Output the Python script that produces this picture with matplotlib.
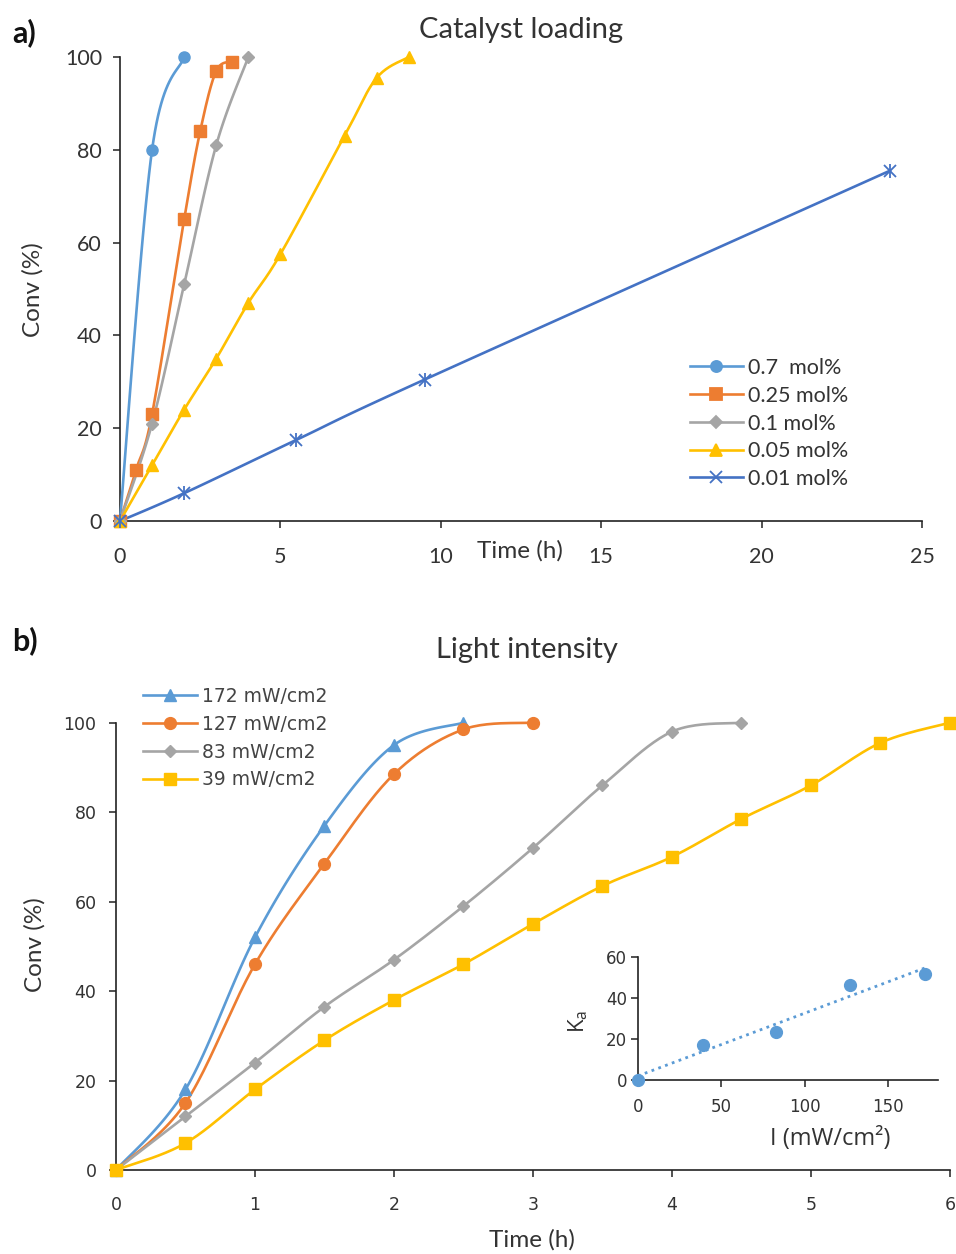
import numpy as np
import matplotlib
matplotlib.use("Agg")
import matplotlib.pyplot as plt

plt.rcParams["font.family"] = ["Lato", "DejaVu Sans"]
plt.rcParams["mathtext.fontset"] = "custom"
plt.rcParams["mathtext.rm"] = "Open Sans"
plt.rcParams["mathtext.it"] = "Open Sans"

# ---- data: panel a (catalyst loading) ----
a_labels = ["0.7  mol%", "0.25 mol%", "0.1 mol%", "0.05 mol%", "0.01 mol%"]
a_t = [
    [0, 1, 2],
    [0, 0.5, 1, 2, 2.5, 3, 3.5],
    [0, 1, 2, 3, 4],
    [0, 1, 2, 3, 4, 5, 7, 8, 9],
    [0, 2, 5.5, 9.5, 24],
]
a_conv = [
    [0, 80, 100],
    [0, 11, 23, 65, 84, 97, 99],
    [0, 21, 51, 81, 100],
    [0, 12, 24, 35, 47, 57.5, 83, 95.5, 100],
    [0, 6, 17.5, 30.5, 75.5],
]
a_xticks = [0, 5, 10, 15, 20, 25]
a_yticks = [0, 20, 40, 60, 80, 100]

# ---- data: panel b (light intensity) ----
b_labels = ["172 mW/cm2", "127 mW/cm2", "83 mW/cm2", "39 mW/cm2"]
b_t = [
    [0, 0.5, 1, 1.5, 2, 2.5],
    [0, 0.5, 1, 1.5, 2, 2.5, 3],
    [0, 0.5, 1, 1.5, 2, 2.5, 3, 3.5, 4, 4.5],
    [0, 0.5, 1, 1.5, 2, 2.5, 3, 3.5, 4, 4.5, 5, 5.5, 6],
]
b_conv = [
    [0, 18, 52, 77, 95, 100],
    [0, 15, 46, 68.5, 88.5, 98.5, 100],
    [0, 12, 24, 36.5, 47, 59, 72, 86, 98, 100],
    [0, 6, 18, 29, 38, 46, 55, 63.5, 70, 78.5, 86, 95.5, 100],
]
b_xticks = [0, 1, 2, 3, 4, 5, 6]
b_yticks = [0, 20, 40, 60, 80, 100]

# ---- data: inset ----
inset_I = [0, 39, 83, 127, 172]
inset_k = [0, 17.3, 23.5, 46.2, 51.8]
inset_xticks = [0, 50, 100, 150]
inset_yticks = [0, 20, 40, 60]

blue = "#5B9BD5"
orange = "#ED7D31"
grey = "#A5A5A5"
gold = "#FFC000"
navy = "#4472C4"
txt = "#333333"
wide = ["DejaVu Sans"]


def smooth(x, y, n=24):
    # Excel-style smoothed line (Catmull-Rom Bezier through the points)
    p = np.column_stack([x, y]).astype(float)
    ext = np.vstack([p[0], p, p[-1]])
    out = [p[:1]]
    s = np.linspace(0, 1, n)[1:, None]
    for i in range(len(p) - 1):
        p0, p1, p2, p3 = ext[i], ext[i + 1], ext[i + 2], ext[i + 3]
        c1 = p1 + (p2 - p0) / 6
        c2 = p2 - (p3 - p1) / 6
        seg = ((1 - s) ** 3) * p1 + 3 * ((1 - s) ** 2) * s * c1 + 3 * (1 - s) * s ** 2 * c2 + s ** 3 * p2
        out.append(seg)
    q = np.vstack(out)
    return q[:, 0], q[:, 1]


def style_axes(ax, fs):
    for sp in ["top", "right"]:
        ax.spines[sp].set_visible(False)
    for sp in ["left", "bottom"]:
        ax.spines[sp].set_color("#222222")
        ax.spines[sp].set_linewidth(1.2)
    ax.tick_params(direction="out", length=5, width=1.1, colors="#222222",
                   labelcolor=txt, labelsize=fs)


fig = plt.figure(figsize=(9.56, 12.54), dpi=100)

# ================= panel a =================
ax1 = fig.add_axes([0.1255, 0.5845, 0.8389, 0.370])
a_colors = [blue, orange, grey, gold, navy]
a_markers = ["o", "s", "D", "^", "x"]
a_msize = [8, 8, 6, 8, 8.5]
for t, c, lab, col, mk, ms in zip(a_t, a_conv, a_labels, a_colors, a_markers, a_msize):
    sx, sy = smooth(t, c)
    ax1.plot(sx, sy, color=col, lw=1.9, clip_on=False, zorder=3)
    if mk == "x":
        ax1.plot(t, c, ls="none", marker="x", ms=ms, mew=1.3, color=col, clip_on=False, zorder=4)
        ax1.plot(t, c, ls="none", marker="|", ms=ms + 2, mew=1.3, color=col, clip_on=False, zorder=4)
    else:
        ax1.plot(t, c, ls="none", marker=mk, ms=ms, color=col, mec=col, clip_on=False, zorder=4)
    ax1.plot([], [], color=col, lw=1.9, marker=mk, ms=ms, mew=1.3, label=lab)

ax1.set_xlim(0, 25)
ax1.set_ylim(0, 100)
ax1.set_xticks(a_xticks)
ax1.set_yticks(a_yticks)
style_axes(ax1, 15.5)
ax1.tick_params(axis="x", pad=14)
ax1.tick_params(axis="y", pad=8)
leg1 = ax1.legend(loc="upper left", bbox_to_anchor=(690 / 956, 1 - 358 / 1254),
                  bbox_transform=fig.transFigure, frameon=False, fontsize=15.5,
                  handlelength=2.45, handletextpad=0.23, labelspacing=0.36,
                  borderpad=0, borderaxespad=0)
for tx in leg1.get_texts():
    tx.set_color(txt)

fig.text(521 / 956, 1 - 30 / 1254, "Catalyst loading", ha="center", va="center",
         fontsize=21, color=txt)
fig.text(12 / 956, 1 - 33 / 1254, "a)", ha="left", va="center", fontsize=22,
         weight="bold", color="#111111")
fig.text(33 / 956, 1 - 290 / 1254, "Conv (%)", rotation=90, ha="center", va="center",
         fontsize=17.5, color=txt)
fig.text(520 / 956, 1 - 551 / 1254, "Time (h)", ha="center", va="center",
         fontsize=17.5, color=txt)

# ================= panel b =================
ax2 = fig.add_axes([0.1213, 0.067, 0.8724, 0.3567])
b_colors = [blue, orange, grey, gold]
b_markers = ["^", "o", "D", "s"]
b_msize = [8.5, 8.5, 6, 8.5]
for t, c, lab, col, mk, ms in zip(b_t, b_conv, b_labels, b_colors, b_markers, b_msize):
    sx, sy = smooth(t, c)
    ax2.plot(sx, sy, color=col, lw=1.9, clip_on=False, zorder=3)
    ax2.plot(t, c, ls="none", marker=mk, ms=ms, color=col, clip_on=False, zorder=4)
    ax2.plot([], [], color=col, lw=1.9, marker=mk, ms=ms, label=lab)

ax2.set_xlim(0, 6)
ax2.set_ylim(0, 100)
ax2.set_xticks(b_xticks)
ax2.set_yticks(b_yticks)
style_axes(ax2, 12.5)
for lbl in ax2.get_xticklabels() + ax2.get_yticklabels():
    lbl.set_family(wide)
ax2.tick_params(axis="x", pad=14)
ax2.tick_params(axis="y", pad=9)
leg2 = ax2.legend(loc="upper left", bbox_to_anchor=(143 / 956, 1 - 687 / 1254),
                  bbox_transform=fig.transFigure, frameon=False,
                  prop={"family": wide, "size": 13.5}, handlelength=2.9,
                  handletextpad=0.27, labelspacing=0.47, borderpad=0, borderaxespad=0)
for tx in leg2.get_texts():
    tx.set_color("#444444")

fig.text(527 / 956, 1 - 650 / 1254, "Light intensity", ha="center", va="center",
         fontsize=21, color=txt)
fig.text(12 / 956, 1 - 641 / 1254, "b)", ha="left", va="center", fontsize=22,
         weight="bold", color="#111111")
fig.text(35 / 956, 1 - 945 / 1254, "Conv (%)", rotation=90, ha="center", va="center",
         fontsize=17.5, color=txt)
fig.text(532 / 956, 1 - 1240 / 1254, "Time (h)", ha="center", va="center",
         fontsize=17.5, color=txt)

# ================= inset =================
ax3 = fig.add_axes([0.6674, 0.1388, 0.3138, 0.098])
ax3.plot(inset_I, inset_k, ls="none", marker="o", ms=8.5, color=blue, clip_on=False, zorder=4)
slope, icpt = np.polyfit(inset_I, inset_k, 1)
fx = np.array([inset_I[0], inset_I[-1]])
ax3.plot(fx, slope * fx + icpt, ls=(0, (1, 1.6)), lw=2, color=blue, zorder=3)
ax3.set_xlim(0, 180)
ax3.set_ylim(0, 60)
ax3.set_xticks(inset_xticks)
ax3.set_yticks(inset_yticks)
style_axes(ax3, 12)
for lbl in ax3.get_xticklabels() + ax3.get_yticklabels():
    lbl.set_family(wide)
ax3.tick_params(axis="x", pad=8)
ax3.tick_params(axis="y", pad=3)
ax3.patch.set_alpha(0)
fig.text(578 / 956, 1 - 1021 / 1254, r"$\mathrm{K_a}$", rotation=90, ha="center",
         va="center", fontsize=16, color=txt)
fig.text(830 / 956, 1 - 1139 / 1254, "I (mW/cm²)", ha="center", va="center",
         fontsize=17, color=txt, family=["Open Sans", "DejaVu Sans"])

fig.savefig("out.png", dpi=100, facecolor="white")
